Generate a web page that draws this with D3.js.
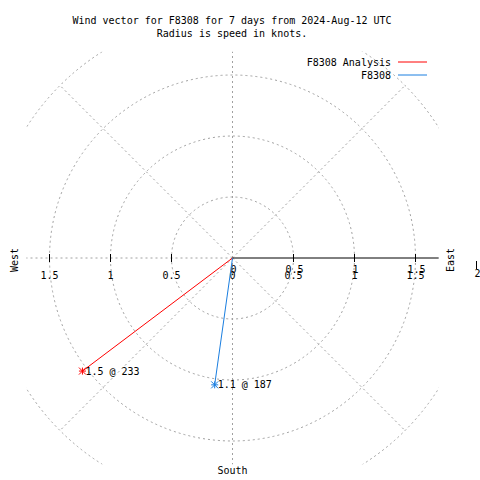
<!DOCTYPE html>
<html><head><meta charset="utf-8">
<script src="https://cdn.jsdelivr.net/npm/d3@7"></script>
<style>
html,body{margin:0;padding:0;background:#fff;}
text{font-family:"DejaVu Sans Mono",monospace;font-size:10px;fill:#000;}
</style></head>
<body><svg id="c" width="480" height="480"></svg>
<script>
const titleLines = ["Wind vector for F8308 for 7 days from 2024-Aug-12 UTC", "Radius is speed in knots."];
const seriesNames = ["F8308 Analysis", "F8308"];
const seriesColors = ["#ff0000", "#1a7ee0"];
const speeds = [1.54, 1.05];
const directions = [233, 188];
const dirLabels = [233, 187];
const gridRadii = [0.5, 1, 1.5, 2];
const gridAngles = [0, 45, 90, 135, 180, 225, 270, 315];
const xTicks = [-1.5, -1, -0.5, 0, 0.5, 1, 1.5];
const rTicks = [0, 0.5, 1, 1.5, 2];
const compass = [["West", 270], ["East", 90], ["South", 180]];

const svg = d3.select("#c");
const cx = 232.5, cy = 258;
const r = d3.scaleLinear().domain([0, 1]).range([0, 122]);
const maxR = 1.69;
const x = d3.scaleLinear().domain([-maxR, maxR]).range([cx - r(maxR), cx + r(maxR)]);
const pt = (sp, deg) => {
  const a = deg * Math.PI / 180;
  return [cx + r(sp) * Math.sin(a), cy - r(sp) * Math.cos(a)];
};

svg.append("defs").append("clipPath").attr("id", "clip").append("rect")
  .attr("x", cx - r(maxR)).attr("y", cy - r(maxR))
  .attr("width", 2 * r(maxR)).attr("height", 2 * r(maxR));

// title
svg.selectAll("text.title").data(titleLines).join("text")
  .attr("x", 232).attr("y", (d, i) => 24 + i * 13)
  .attr("text-anchor", "middle").text(d => d);

// grid
const g = svg.append("g").attr("clip-path", "url(#clip)")
  .attr("stroke", "#a0a0a0").attr("stroke-dasharray", "2,3").attr("fill", "none");
g.selectAll("circle").data(gridRadii).join("circle")
  .attr("cx", cx).attr("cy", cy).attr("r", d => r(d));
g.selectAll("line").data(gridAngles.filter(a => a !== 90)).join("line")
  .attr("x1", cx).attr("y1", cy)
  .attr("x2", d => pt(2, d)[0]).attr("y2", d => pt(2, d)[1]);

// r axis (solid, east)
svg.append("line").attr("x1", cx).attr("y1", cy).attr("x2", x(maxR)).attr("y2", cy)
  .attr("stroke", "#000");
svg.selectAll("line.rt").data(rTicks.filter(d => d > 0)).join("line").attr("class", "rt")
  .attr("x1", d => cx + r(d)).attr("x2", d => cx + r(d))
  .attr("y1", d => d === 2 ? cy + 3 : cy - 4).attr("y2", d => d === 2 ? cy + 11 : cy + 4)
  .attr("stroke", "#000");
svg.selectAll("line.xt").data(xTicks.filter(d => d < 0)).join("line").attr("class", "xt")
  .attr("x1", d => x(d)).attr("x2", d => x(d)).attr("y1", cy - 4).attr("y2", cy + 4)
  .attr("stroke", "#000");

// tick labels
svg.selectAll("text.xl").data(xTicks).join("text").attr("class", "xl")
  .attr("x", d => x(d)).attr("y", cy + 21).attr("text-anchor", "middle")
  .text(d => d3.format("")(Math.abs(d)));
svg.selectAll("text.rl").data(rTicks.filter(d => d >= 0 && d !== 0 || true)).join("text").attr("class", "rl")
  .attr("x", d => cx + r(d) + 1).attr("y", d => cy + (d === 2 ? 19 : 15)).attr("text-anchor", "middle")
  .text(d => d3.format("")(d));

// compass labels
compass.forEach(([name, deg]) => {
  if (name === "South") {
    svg.append("text").attr("x", cx).attr("y", 474).attr("text-anchor", "middle").text(name);
  } else {
    const px = name === "West" ? 18 : 454;
    svg.append("text").attr("transform", `translate(${px},260) rotate(-90)`)
      .attr("text-anchor", "middle").text(name);
  }
});

// legend
seriesNames.forEach((n, i) => {
  const y = 66 + i * 13;
  svg.append("text").attr("x", 391).attr("y", y).attr("text-anchor", "end").text(n);
  svg.append("line").attr("x1", 398).attr("x2", 427).attr("y1", y - 4).attr("y2", y - 4)
    .attr("stroke", seriesColors[i]).attr("stroke-width", 1);
});

// vectors
speeds.forEach((s, i) => {
  const [px, py] = pt(s, directions[i]);
  const col = seriesColors[i];
  svg.append("line").attr("x1", cx).attr("y1", cy).attr("x2", px).attr("y2", py)
    .attr("stroke", col).attr("stroke-width", 1);
  const k = 3.5;
  const star = svg.append("g").attr("stroke", col).attr("stroke-width", 1);
  star.append("line").attr("x1", px - k).attr("x2", px + k).attr("y1", py).attr("y2", py);
  star.append("line").attr("x1", px).attr("x2", px).attr("y1", py - k).attr("y2", py + k);
  star.append("line").attr("x1", px - k).attr("x2", px + k).attr("y1", py - k).attr("y2", py + k);
  star.append("line").attr("x1", px - k).attr("x2", px + k).attr("y1", py + k).attr("y2", py - k);
  svg.append("text").attr("x", px + 3).attr("y", py + 3.5)
    .text(`${d3.format(".1f")(s)} @ ${dirLabels[i]}`);
});
</script></body></html>
